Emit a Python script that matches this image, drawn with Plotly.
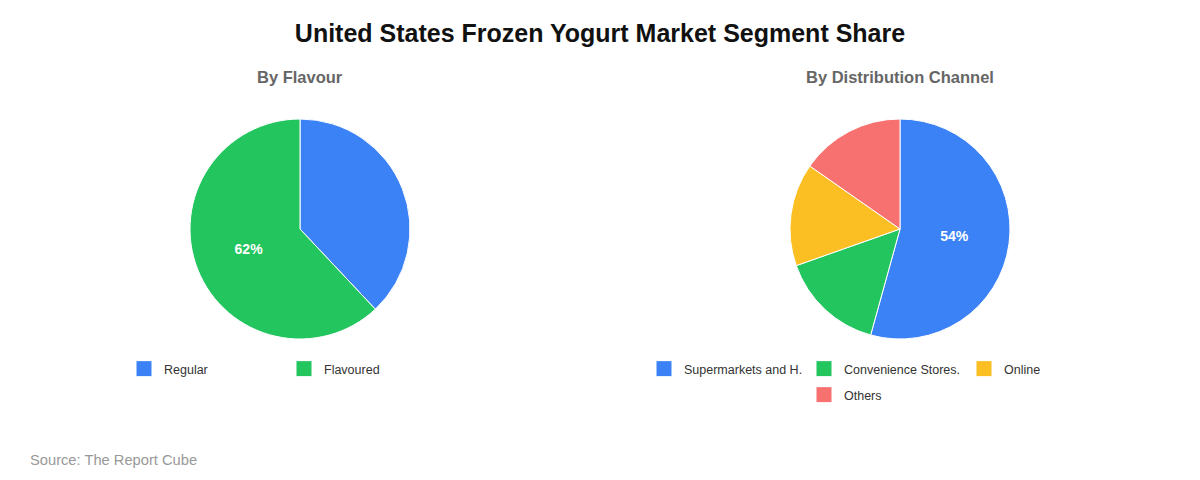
import plotly.graph_objects as go

# data
flavour_labels = ["Regular", "Flavoured"]
flavour_values = [38, 62]

channel_labels = ["Supermarkets and H.", "Convenience Stores.", "Online", "Others"]
channel_values = [54.3, 15.3, 15.1, 15.3]

colors = ["#3B82F6", "#22C55E", "#FBBF24", "#F87171"]
font_family = "Arial, Liberation Sans, sans-serif"

# the page body has an 8px margin, so the figure is a bit smaller than the window
OFF = 8
W, H = 1200 - 2 * OFF, 480 - 2 * OFF


def px_x(x):
    return (x - OFF) / W


def px_y(y):
    return 1 - (y - OFF) / H


def only_biggest(values):
    # the reference only prints the largest slice's share
    top = max(values)
    return [f"{round(v)}%" if v == top else "" for v in values]


fig = go.Figure()

pie_style = dict(
    textinfo="text", textposition="inside", insidetextorientation="horizontal",
    textfont=dict(color="white", size=14, family=font_family, weight="bold"),
    sort=False, direction="clockwise", rotation=0, showlegend=False,
    hoverinfo="label+percent",
)

fig.add_trace(go.Pie(
    labels=flavour_labels, values=flavour_values, text=only_biggest(flavour_values),
    marker=dict(colors=colors[:2], line=dict(color="white", width=1)),
    domain=dict(x=[px_x(190), px_x(410)], y=[px_y(339), px_y(119)]),
    **pie_style,
))

fig.add_trace(go.Pie(
    labels=channel_labels, values=channel_values, text=only_biggest(channel_values),
    marker=dict(colors=colors, line=dict(color="white", width=1)),
    domain=dict(x=[px_x(790), px_x(1010)], y=[px_y(339), px_y(119)]),
    **pie_style,
))

# legend entries (square swatches); the right chart wraps "Others" onto a second row
legend_of = {flavour_labels[0]: "legend", flavour_labels[1]: "legend",
             channel_labels[0]: "legend2", channel_labels[1]: "legend2",
             channel_labels[2]: "legend2", channel_labels[3]: "legend3"}
for labels in (flavour_labels, channel_labels):
    for i, name in enumerate(labels):
        fig.add_trace(go.Scatter(
            x=[None], y=[None], mode="markers", name=name,
            marker=dict(symbol="square", size=15, color=colors[i]),
            legend=legend_of[name], hoverinfo="skip",
        ))

legend_style = dict(
    orientation="h", entrywidth=115, entrywidthmode="pixels",
    font=dict(size=12.5, color="#333333", family=font_family),
    bgcolor="rgba(0,0,0,0)", xanchor="left", yanchor="top",
    xref="container", yref="container",
    itemclick=False, itemdoubleclick=False, tracegroupgap=0,
)

fig.update_layout(
    width=W, height=H,
    margin=dict(l=0, r=0, t=0, b=0, autoexpand=False),
    paper_bgcolor="white", plot_bgcolor="white",
    font=dict(family=font_family),
    xaxis=dict(visible=False), yaxis=dict(visible=False),
    title=dict(
        text="<b>United States Frozen Yogurt Market Segment Share</b>",
        x=0.5, xanchor="center", y=px_y(33), yanchor="middle",
        font=dict(size=25, color="#111111", family=font_family),
    ),
    legend=dict(x=px_x(124), y=px_y(354), **legend_style),
    legend2=dict(x=px_x(644), y=px_y(354), **legend_style),
    legend3=dict(x=px_x(804), y=px_y(380), **legend_style),
    annotations=[
        dict(text="<b>By Flavour</b>", x=px_x(300), y=px_y(77), xref="paper", yref="paper",
             showarrow=False, xanchor="center", yanchor="middle",
             font=dict(size=16.5, color="#666666", family=font_family)),
        dict(text="<b>By Distribution Channel</b>", x=px_x(900), y=px_y(77), xref="paper", yref="paper",
             showarrow=False, xanchor="center", yanchor="middle",
             font=dict(size=16.5, color="#666666", family=font_family)),
        dict(text="Source: The Report Cube", x=px_x(28), y=px_y(460), xref="paper", yref="paper",
             showarrow=False, xanchor="left", yanchor="middle",
             font=dict(size=14.7, color="#999999", family=font_family)),
    ],
)

fig.write_html("out.html")
